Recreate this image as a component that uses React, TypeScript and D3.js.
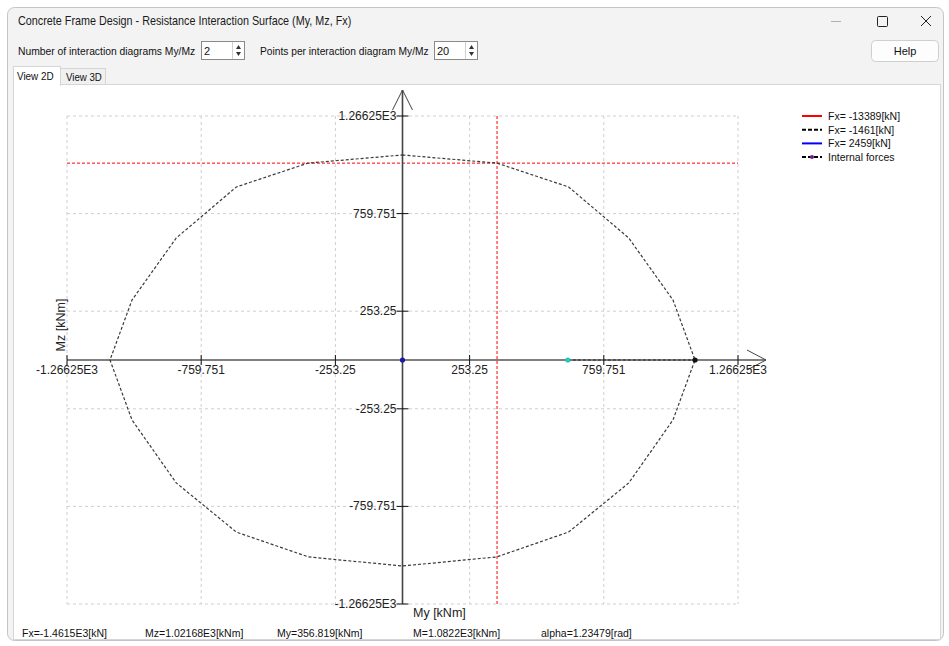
import React from "react";
import * as d3 from "d3";

const W = 949;
const H = 646;

// Interaction diagram for Fx = -1461 kN (20 points), My/Mz in kNm
const diagramMy = [0, 356.8, 627, 854, 1021, 1104, 1021, 854, 627, 355, 0, -355, -627, -854, -1021, -1104, -1021, -854, -627, -356.8];
const diagramMz = [1064, 1021.7, 898, 633, 311, 0, -311, -638, -893, -1022, -1069, -1022, -893, -638, -311, 0, 311, 633, 898, 1021.7];

const tickValues = [-1266.25, -759.751, -253.25, 253.25, 759.751, 1266.25];
const tickLabels = ["-1.26625E3", "-759.751", "-253.25", "253.25", "759.751", "1.26625E3"];

const internalMy = 356.819;
const internalMz = 1021.68;

const pointMy = [0, 624, 1104];
const pointColors = ["#1a1aa8", "#29c4c4", "#111111"];

const legendLabels = ["Fx= -13389[kN]", "Fx= -1461[kN]", "Fx= 2459[kN]", "Internal forces"];
const legendColors = ["#ff0000", "#000000", "#0000ff", "#000000"];
const legendDash = ["", "4,2", "", "4,2"];

const statusLabels = ["Fx=-1.4615E3[kN]", "Mz=1.02168E3[kNm]", "My=356.819[kNm]", "M=1.0822E3[kNm]", "alpha=1.23479[rad]"];
const statusX = [22, 145, 277, 413, 541];

const UI = "'Liberation Sans', Arial, sans-serif";

export default function App() {
  const x = d3.scaleLinear().domain([-1266.25, 1266.25]).range([67, 738]);
  const y = d3.scaleLinear().domain([-1266.25, 1266.25]).range([604, 116]);
  const x0 = x(0);
  const y0 = y(0);

  const line = d3
    .line<number>()
    .x((_, i) => x(diagramMy[i]))
    .y((_, i) => y(diagramMz[i]))
    .curve(d3.curveLinearClosed);
  const polyPath = line(diagramMy) || "";

  const gridColor = "#cfcfcf";

  return (
    <div style={{ position: "absolute", left: 0, top: 0, width: W, height: H }}>
      <svg width={W} height={H} style={{ display: "block", fontFamily: UI }}>
        <rect x={0} y={0} width={W} height={H} fill="#ffffff" />
        {/* window */}
        <rect x={7.5} y={7.5} width={936} height={633} rx={7} fill="#f3f3f3" stroke="#c4c4c4" />
        <text transform="translate(18,25) scale(0.9,1)" fontSize={12} fill="#1a1a1a">
          Concrete Frame Design - Resistance Interaction Surface (My, Mz, Fx)
        </text>
        {/* title bar buttons */}
        <line x1={831} x2={841} y1={21.5} y2={21.5} stroke="#b0b0b0" />
        <rect x={877.5} y={16.5} width={10} height={10} rx={1} fill="none" stroke="#222" />
        <line x1={921} x2={931} y1={16} y2={26} stroke="#222" />
        <line x1={931} x2={921} y1={16} y2={26} stroke="#222" />

        {/* toolbar */}
        <text transform="translate(18,55) scale(0.94,1)" fontSize={11} fill="#111">Number of interaction diagrams My/Mz</text>
        <rect x={201.5} y={41.5} width={43} height={18} fill="#fff" stroke="#8a8a8a" />
        <text x={204} y={55} fontSize={11} fill="#111">2</text>
        <line x1={232.5} x2={232.5} y1={42} y2={59} stroke="#d0d0d0" />
        <path d="M236,49 L238.5,45 L241,49 Z" fill="#333" />
        <path d="M236,52 L238.5,56 L241,52 Z" fill="#333" />
        <text transform="translate(260,55) scale(0.93,1)" fontSize={11} fill="#111">Points per interaction diagram My/Mz</text>
        <rect x={434.5} y={41.5} width={43} height={18} fill="#fff" stroke="#8a8a8a" />
        <text x={437} y={55} fontSize={11} fill="#111">20</text>
        <line x1={465.5} x2={465.5} y1={42} y2={59} stroke="#d0d0d0" />
        <path d="M469,49 L471.5,45 L474,49 Z" fill="#333" />
        <path d="M469,52 L471.5,56 L474,52 Z" fill="#333" />
        <rect x={871.5} y={40.5} width={67} height={21} rx={4} fill="#fdfdfd" stroke="#cfcfcf" />
        <text x={905} y={55} fontSize={11} fill="#111" textAnchor="middle">Help</text>

        {/* tabs */}
        <rect x={60.5} y={68.5} width={45} height={16} fill="#f0f0f0" stroke="#d6d6d6" />
        <text transform="translate(66,81) scale(0.88,1)" fontSize={11} fill="#111">View 3D</text>
        <rect x={13.5} y={84.5} width={927} height={555} fill="#ffffff" stroke="#d6d6d6" />
        <rect x={13.5} y={66.5} width={47} height={19} fill="#ffffff" stroke="#d6d6d6" />
        <rect x={14} y={84} width={46} height={2} fill="#ffffff" />
        <text transform="translate(17,80) scale(0.9,1)" fontSize={11} fill="#111">View 2D</text>

        {/* grid */}
        {tickValues.map((v, i) => (
          <line key={"gx" + i} x1={x(v)} x2={x(v)} y1={y(1266.25)} y2={y(-1266.25)} stroke={gridColor} strokeDasharray="3,3" />
        ))}
        {tickValues.map((v, i) => (
          <line key={"gy" + i} x1={x(-1266.25)} x2={x(1266.25)} y1={y(v)} y2={y(v)} stroke={gridColor} strokeDasharray="3,3" />
        ))}

        {/* internal forces crosshair */}
        <line x1={x(-1266.25)} x2={x(1266.25)} y1={y(internalMz)} y2={y(internalMz)} stroke="#ff0000" strokeDasharray="3,2" />
        <line x1={x(internalMy)} x2={x(internalMy)} y1={y(1266.25)} y2={y(-1266.25)} stroke="#ff0000" strokeDasharray="3,2" />

        {/* axes */}
        <line x1={x(-1266.25)} x2={766} y1={y0} y2={y0} stroke="#555" strokeWidth={1.6} />
        <path d={`M747,${y0 - 10} L766,${y0} L747,${y0 + 10}`} fill="none" stroke="#444" strokeWidth={1} />
        <line x1={x0} x2={x0} y1={y(-1266.25)} y2={90} stroke="#444" strokeWidth={1.6} />
        <path d={`M${x0 - 10},110 L${x0},90 L${x0 + 10},110`} fill="none" stroke="#444" strokeWidth={1} />
        {tickValues.map((v, i) => (
          <g key={"tx" + i}>
            <line x1={x(v)} x2={x(v)} y1={y0 - 5} y2={y0 + 5} stroke="#111" />
            <text x={x(v)} y={y0 + 14} fontSize={12} textAnchor="middle" fill="#222">
              {tickLabels[i]}
            </text>
          </g>
        ))}
        {tickValues.map((v, i) => (
          <g key={"ty" + i}>
            <line x1={x0 - 6} x2={x0 + 6} y1={y(v)} y2={y(v)} stroke="#111" />
            <text x={x0 - 6} y={y(v) + 4} fontSize={12} textAnchor="end" fill="#222">
              {tickLabels[i]}
            </text>
          </g>
        ))}
        <text x={413} y={617} fontSize={12.5} fill="#222">My [kNm]</text>
        <text transform="translate(65,325) rotate(-90)" fontSize={12.5} fill="#222" textAnchor="middle">
          Mz [kNm]
        </text>

        {/* interaction diagram */}
        <path d={polyPath} fill="none" stroke="#3a3a3a" strokeWidth={1.2} strokeDasharray="3,2" />
        <line x1={x(pointMy[1])} x2={x(pointMy[2])} y1={y0} y2={y0} stroke="#222" strokeDasharray="3,2" />
        {pointMy.map((v, i) => (
          <circle key={"p" + i} cx={x(v)} cy={y0} r={2.6} fill={pointColors[i]} />
        ))}

        {/* legend */}
        {legendLabels.map((l, i) => (
          <g key={"lg" + i} transform={`translate(802,${116 + i * 13.7})`}>
            <line x1={0} x2={20} y1={0} y2={0} stroke={legendColors[i]} strokeWidth={2} strokeDasharray={legendDash[i]} />
            {i === 3 && <circle cx={10} cy={0} r={2} fill="#7a1a8a" />}
            <text x={26} y={4} fontSize={10.5} fill="#111">
              {l}
            </text>
          </g>
        ))}

        {/* status */}
        {statusLabels.map((s, i) => (
          <text key={"s" + i} x={statusX[i]} y={637} fontSize={10.5} fill="#111">
            {s}
          </text>
        ))}
      </svg>
    </div>
  );
}
